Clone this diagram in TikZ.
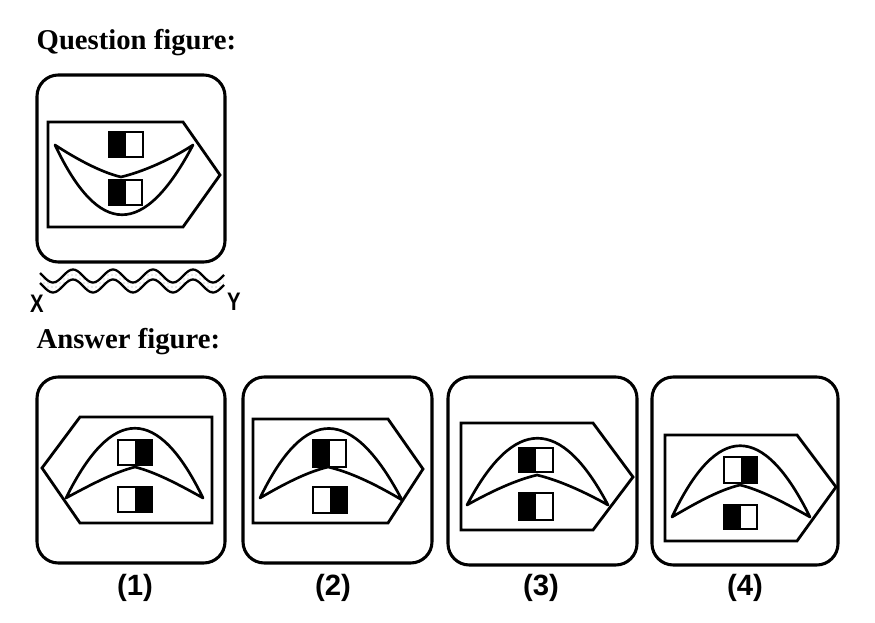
\documentclass[tikz,border=0pt]{standalone}
\usepackage{fontspec}
\setmainfont{Liberation Serif}
\setsansfont{Liberation Sans}
\usetikzlibrary{patterns}

\tikzset{
  frame/.style={draw=black,line width=2.3pt,rounded corners=16pt},
  penta/.style={draw=black,line width=2.1pt,line join=miter},
  moon/.style={draw=black,line width=2pt,line join=round},
  cell/.style={draw=black,line width=1.6pt},
  heading/.style={anchor=base west,font=\bfseries\fontsize{21.5}{25}\selectfont},
  optlabel/.style={font=\sffamily\bfseries\fontsize{22}{25}\selectfont},
  endlabel/.style={font=\sffamily\bfseries\fontsize{19}{22}\selectfont}
}

\begin{document}
\begin{tikzpicture}[x=0.75pt,y=-0.75pt]
                \useasboundingbox (0,0) rectangle (875,623);
                % headings
                \node[heading] (qhead) at (32,50) {Question figure:};
                \node[heading] (ahead) at (32,349) {Answer figure:};
                % question figure
                \begin{scope}
                    \draw[frame] (37,75) rectangle (225,262);
                    \draw[penta] (48,122) -- (183,122) -- (220,175) -- (183,227) -- (48,227) -- cycle;
                    \draw[moon] (55,145) .. controls (99,238) and (144,238) .. (193,145)
                                .. controls (170,160) and (142,172) .. (121,177)
                                .. controls (100,172) and (75,158) .. cycle;
                    \fill (109,132) rectangle (126,157);
                    \draw[cell] (109,132) rectangle (143,157);
                    \fill (109,180) rectangle (126,205);
                    \draw[cell] (109,180) rectangle (142,205);
                \end{scope}
                % mirror line
                \begin{scope}
                    \fill[pattern=dots,pattern color=gray!70]
                        plot[domain=40:224,samples=90,smooth] (\x,{276+6.5*cos(9*(\x-53))})
                        -- plot[domain=224:40,samples=90,smooth] (\x,{286+6.5*cos(9*(\x-53))}) -- cycle;
                    \draw[line width=1.7pt] plot[domain=40:224,samples=90,smooth] (\x,{276+6.5*cos(9*(\x-53))});
                    \draw[line width=1.7pt] plot[domain=40:224,samples=90,smooth] (\x,{286+6.5*cos(9*(\x-53))});
                    \node[endlabel] (X) at (37,304) {\scalebox{0.8}[1]{X}};
                    \node[endlabel] (Y) at (234,302) {\scalebox{0.8}[1]{Y}};
                \end{scope}
                % option 1
                \begin{scope}
                    \draw[frame] (37,377) rectangle (225,563);
                    \draw[penta] (42,468) -- (80,417) -- (212,417) -- (212,523) -- (80,523) -- cycle;
                    \draw[moon] (66,498) .. controls (112,405) and (158,405) .. (203,498)
                                .. controls (178,484) and (155,472) .. (135,467)
                                .. controls (115,472) and (92,484) .. cycle;
                    \fill (135,440) rectangle (152,465);
                    \draw[cell] (118,440) rectangle (152,465);
                    \fill (135,487) rectangle (152,512);
                    \draw[cell] (118,487) rectangle (152,512);
                    \node[optlabel] (opt1) at (135,588) {(1)};
                \end{scope}
                % option 2
                \begin{scope}
                    \draw[frame] (243,377) rectangle (432,563);
                    \draw[penta] (253,419) -- (388,419) -- (423,469) -- (388,523) -- (253,523) -- cycle;
                    \draw[moon] (260,498) .. controls (305,405) and (352,405) .. (402,500)
                                .. controls (375,484) and (350,472) .. (328,467)
                                .. controls (307,472) and (284,484) .. cycle;
                    \fill (313,440) rectangle (330,467);
                    \draw[cell] (313,440) rectangle (346,467);
                    \fill (330,487) rectangle (347,513);
                    \draw[cell] (313,487) rectangle (347,513);
                    \node[optlabel] (opt2) at (333,588) {(2)};
                \end{scope}
                % option 3
                \begin{scope}
                    \draw[frame] (448,377) rectangle (637,565);
                    \draw[penta] (461,423) -- (593,423) -- (633,477) -- (593,530) -- (461,530) -- cycle;
                    \draw[moon] (467,505) .. controls (514,416) and (561,416) .. (608,505)
                                .. controls (583,491) and (558,480) .. (537,475)
                                .. controls (516,480) and (492,491) .. cycle;
                    \fill (519,448) rectangle (536,472);
                    \draw[cell] (519,448) rectangle (553,472);
                    \fill (519,493) rectangle (536,520);
                    \draw[cell] (519,493) rectangle (553,520);
                    \node[optlabel] (opt3) at (541,588) {(3)};
                \end{scope}
                % option 4
                \begin{scope}
                    \draw[frame] (652,377) rectangle (838,565);
                    \draw[penta] (665,435) -- (797,435) -- (836,487) -- (797,541) -- (665,541) -- cycle;
                    \draw[moon] (672,517) .. controls (717,422) and (763,422) .. (810,517)
                                .. controls (785,503) and (761,490) .. (740,485)
                                .. controls (719,490) and (696,503) .. cycle;
                    \fill (741,457) rectangle (757,483);
                    \draw[cell] (724,457) rectangle (757,483);
                    \fill (724,505) rectangle (741,529);
                    \draw[cell] (724,505) rectangle (757,529);
                    \node[optlabel] (opt4) at (745,588) {(4)};
                \end{scope}
            \end{tikzpicture}
\end{document}
